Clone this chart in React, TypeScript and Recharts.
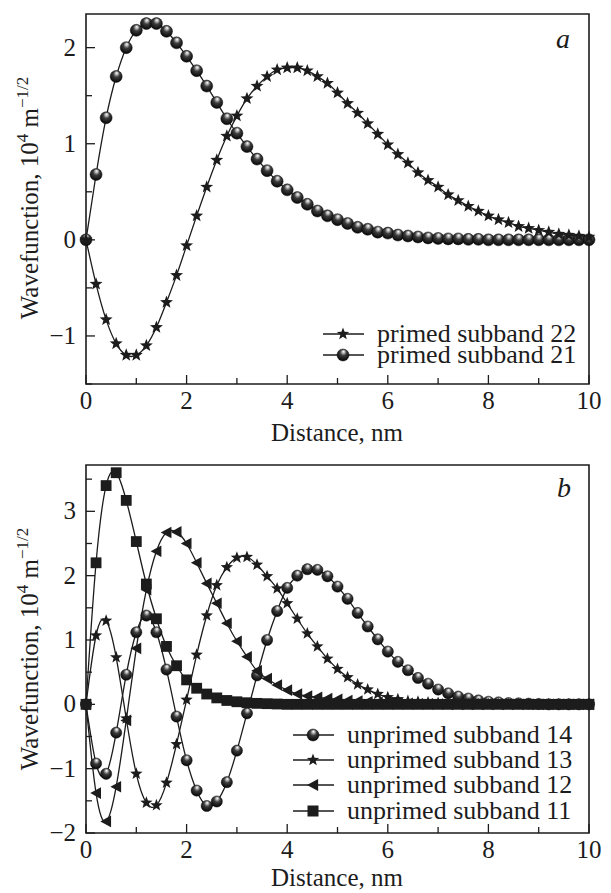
import React from "react"
import { LineChart, Line, XAxis, YAxis, ReferenceArea } from "recharts"

// distance grid, nm
const distance = [
  0, 0.2, 0.4, 0.6, 0.8, 1, 1.2, 1.4, 1.6, 1.8, 2, 2.2, 2.4, 2.6, 2.8, 3, 3.2, 3.4, 3.6, 3.8,
  4, 4.2, 4.4, 4.6, 4.8, 5, 5.2, 5.4, 5.6, 5.8, 6, 6.2, 6.4, 6.6, 6.8, 7, 7.2, 7.4, 7.6, 7.8,
  8, 8.2, 8.4, 8.6, 8.8, 9, 9.2, 9.4, 9.6, 9.8, 10,
]

// panel a
const primed22 = [
  0, -0.46, -0.83, -1.08, -1.2, -1.2, -1.1, -0.91, -0.65, -0.37, -0.06, 0.25, 0.55, 0.83, 1.08, 1.29, 1.47, 1.6, 1.7, 1.77,
  1.79, 1.79, 1.76, 1.7, 1.63, 1.53, 1.42, 1.32, 1.21, 1.1, 0.99, 0.89, 0.8, 0.7, 0.62, 0.55, 0.47, 0.41, 0.35, 0.3,
  0.25, 0.21, 0.18, 0.14, 0.12, 0.1, 0.08, 0.06, 0.05, 0.04, 0.03,
]
const primed21 = [
  0, 0.68, 1.27, 1.7, 2.0, 2.18, 2.25, 2.25, 2.17, 2.05, 1.91, 1.76, 1.6, 1.43, 1.26, 1.11, 0.97, 0.84, 0.72, 0.61,
  0.52, 0.44, 0.37, 0.3, 0.25, 0.21, 0.17, 0.13, 0.11, 0.08, 0.07, 0.05, 0.04, 0.03, 0.02, 0.015, 0.01, 0.01, 0.005, 0.005,
  0, 0, 0, 0, 0, 0, 0, 0, 0, 0, 0,
]

// panel b
const unprimed14 = [
  0, -0.92, -1.08, -0.44, 0.46, 1.12, 1.38, 1.12, 0.54, -0.19, -0.87, -1.34, -1.58, -1.51, -1.21, -0.72, -0.14, 0.45, 1.0, 1.45,
  1.81, 2.0, 2.1, 2.09, 1.99, 1.83, 1.64, 1.42, 1.21, 1.01, 0.82, 0.66, 0.53, 0.41, 0.32, 0.23, 0.17, 0.12, 0.09, 0.06,
  0.04, 0.03, 0.02, 0.015, 0.01, 0.005, 0, 0, 0, 0, 0,
]
const unprimed13 = [
  0, 1.07, 1.3, 0.73, -0.22, -1.08, -1.53, -1.57, -1.22, -0.62, 0.07, 0.77, 1.38, 1.85, 2.13, 2.28, 2.29, 2.17, 1.99, 1.8,
  1.57, 1.33, 1.1, 0.9, 0.71, 0.55, 0.42, 0.31, 0.23, 0.16, 0.11, 0.08, 0.05, 0.04, 0.03, 0.02, 0.01, 0.005, 0, 0,
  0, 0, 0, 0, 0, 0, 0, 0, 0, 0, 0,
]
const unprimed12 = [
  0, -1.38, -1.82, -1.28, -0.25, 0.87, 1.78, 2.38, 2.67, 2.68, 2.5, 2.2, 1.88, 1.57, 1.26, 0.98, 0.74, 0.52, 0.4, 0.3,
  0.22, 0.16, 0.13, 0.11, 0.09, 0.08, 0.06, 0.05, 0.04, 0.03, 0.025, 0.02, 0.015, 0.01, 0.01, 0.005, 0, 0, 0, 0,
  0, 0, 0, 0, 0, 0, 0, 0, 0, 0, 0,
]
const unprimed11 = [
  0, 2.2, 3.4, 3.6, 3.17, 2.53, 1.87, 1.33, 0.9, 0.6, 0.38, 0.25, 0.16, 0.1, 0.06, 0.04, 0.025, 0.015, 0.01, 0.005,
  0, 0, 0, 0, 0, 0, 0, 0, 0, 0, 0, 0, 0, 0, 0, 0, 0, 0, 0, 0,
  0, 0, 0, 0, 0, 0, 0, 0, 0, 0, 0,
]

const xTicks = [0, 1, 2, 3, 4, 5, 6, 7, 8, 9, 10]
const yTicksA = [-1.5, -1, -0.5, 0, 0.5, 1, 1.5, 2]
const yTicksB = [-2, -1.5, -1, -0.5, 0, 0.5, 1, 1.5, 2, 2.5, 3, 3.5]
const legendA = ["primed subband 22", "primed subband 21"]
const legendB = ["unprimed subband 14", "unprimed subband 13", "unprimed subband 12", "unprimed subband 11"]

const dataA = distance.map((x, i) => ({ x, s22: primed22[i], s21: primed21[i] }))
const dataB = distance.map((x, i) => ({
  x,
  s14: unprimed14[i],
  s13: unprimed13[i],
  s12: unprimed12[i],
  s11: unprimed11[i],
}))

const FONT = "'Liberation Serif', 'DejaVu Serif', serif"
const INK = "#1c1c1c"
const fmt = (v: number) => String(v).replace("-", "\u2212")

function Sphere({ cx, cy, r }: any) {
  return <circle cx={cx} cy={cy} r={r} fill="url(#ball)" stroke="#0a0a0a" strokeWidth={0.5} />
}

function Star({ cx, cy, R }: any) {
  const pts: string[] = []
  for (let k = 0; k < 10; k++) {
    const rad = k % 2 === 0 ? R : R * 0.42
    const a = -Math.PI / 2 + (k * Math.PI) / 5
    pts.push(`${cx + rad * Math.cos(a)},${cy + rad * Math.sin(a)}`)
  }
  return <polygon points={pts.join(" ")} fill={INK} />
}

function Tri({ cx, cy, s }: any) {
  return <polygon points={`${cx - s},${cy} ${cx + s * 0.85},${cy - s} ${cx + s * 0.85},${cy + s}`} fill={INK} />
}

function Square({ cx, cy, s }: any) {
  return <rect x={cx - s} y={cy - s} width={2 * s} height={2 * s} fill={INK} />
}

const sphereDot = (r: number) => (p: any) => <Sphere key={`o${p.index}`} cx={p.cx} cy={p.cy} r={r} />
const starDot = (R: number) => (p: any) => <Star key={`s${p.index}`} cx={p.cx} cy={p.cy} R={R} />
const triDot = (p: any) => <Tri key={`t${p.index}`} cx={p.cx} cy={p.cy} s={5.8} />
const squareDot = (p: any) => <Square key={`q${p.index}`} cx={p.cx} cy={p.cy} s={5.4} />

function XTick({ x, y, payload }: any) {
  const v = payload.value
  const major = v % 2 === 0
  return (
    <g>
      <line x1={x} x2={x} y1={y} y2={y - (major ? 9 : 6)} stroke={INK} strokeWidth={1.3} />
      {major && (
        <text x={x} y={y + 25} textAnchor="middle" fontSize={25} fontFamily={FONT} fill={INK}>
          {v}
        </text>
      )}
    </g>
  )
}

function YTick({ x, y, payload }: any) {
  const v = payload.value
  const major = Number.isInteger(v)
  return (
    <g>
      <line x1={x} x2={x + (major ? 9 : 6)} y1={y} y2={y} stroke={INK} strokeWidth={1.3} />
      {major && (
        <text x={x - 10} y={y + 8} textAnchor="end" fontSize={25} fontFamily={FONT} fill={INK}>
          {fmt(v)}
        </text>
      )}
    </g>
  )
}

function YTitle({ x, y }: any) {
  return (
    <text
      x={x}
      y={y}
      transform={`rotate(-90, ${x}, ${y})`}
      textAnchor="middle"
      fontSize={25}
      fontFamily={FONT}
      fill={INK}
    >
      Wavefunction, 10
      <tspan fontSize={17} dy={-10}>4</tspan>
      <tspan dy={10}> m</tspan>
      <tspan fontSize={17} dy={-10}>{"\u22121/2"}</tspan>
    </text>
  )
}

function LegendRow({ x, y, label, kind }: any) {
  const mx = x + 20
  return (
    <g>
      <line x1={x} x2={x + 41} y1={y} y2={y} stroke={INK} strokeWidth={1.4} />
      {kind === "sphere" && <Sphere cx={mx} cy={y} r={6} />}
      {kind === "star" && <Star cx={mx} cy={y} R={6.5} />}
      {kind === "tri" && <Tri cx={mx} cy={y} s={6} />}
      {kind === "square" && <Square cx={mx} cy={y} s={5.5} />}
      <text x={x + 54} y={y + 8} fontSize={26} fontFamily={FONT} fill={INK}>
        {label}
      </text>
    </g>
  )
}

export default function App() {
  const lineProps = { type: "natural" as const, stroke: INK, strokeWidth: 1.3, isAnimationActive: false, activeDot: false as const }
  return (
    <div style={{ position: "absolute", left: 0, top: 0, width: 611, height: 893, background: "#fff" }}>
      <div style={{ position: "absolute", left: 0, top: 0 }}>
        <LineChart width={611} height={440} data={dataA} margin={{ top: 14, right: 22, left: 0, bottom: 0 }}>
          <XAxis
            dataKey="x"
            type="number"
            domain={[0, 10]}
            ticks={xTicks}
            interval={0}
            axisLine={false}
            tickLine={false}
            tickSize={0}
            tickMargin={0}
            height={56}
            tick={<XTick />}
          />
          <YAxis
            type="number"
            domain={[-1.5, 2.35]}
            ticks={yTicksA}
            interval={0}
            allowDataOverflow
            axisLine={false}
            tickLine={false}
            tickSize={0}
            tickMargin={0}
            width={86}
            tick={<YTick />}
          />
          <ReferenceArea x1={0} x2={10} y1={-1.5} y2={2.35} fill="none" stroke={INK} strokeWidth={1.6} />
          <Line dataKey="s21" {...lineProps} dot={sphereDot(6)} />
          <Line dataKey="s22" {...lineProps} dot={starDot(6.8)} />
        </LineChart>
      </div>
      <div style={{ position: "absolute", left: 0, top: 440 }}>
        <LineChart width={611} height={453} data={dataB} margin={{ top: 25, right: 22, left: 0, bottom: 0 }}>
          <XAxis
            dataKey="x"
            type="number"
            domain={[0, 10]}
            ticks={xTicks}
            interval={0}
            axisLine={false}
            tickLine={false}
            tickSize={0}
            tickMargin={0}
            height={60}
            tick={<XTick />}
          />
          <YAxis
            type="number"
            domain={[-2, 3.72]}
            ticks={yTicksB}
            interval={0}
            allowDataOverflow
            axisLine={false}
            tickLine={false}
            tickSize={0}
            tickMargin={0}
            width={86}
            tick={<YTick />}
          />
          <ReferenceArea x1={0} x2={10} y1={-2} y2={3.72} fill="none" stroke={INK} strokeWidth={1.6} />
          <Line dataKey="s14" {...lineProps} dot={sphereDot(5.6)} />
          <Line dataKey="s13" {...lineProps} dot={starDot(6.5)} />
          <Line dataKey="s12" {...lineProps} dot={triDot} />
          <Line dataKey="s11" {...lineProps} dot={squareDot} />
        </LineChart>
      </div>
      <svg width={611} height={893} style={{ position: "absolute", left: 0, top: 0, pointerEvents: "none" }}>
        <defs>
          <radialGradient id="ball" cx="0.5" cy="0.4" r="0.6" fx="0.55" fy="0.2">
            <stop offset="0%" stopColor="#ffffff" />
            <stop offset="15%" stopColor="#c8c8c8" />
            <stop offset="45%" stopColor="#3c3c3c" />
            <stop offset="100%" stopColor="#050505" />
          </radialGradient>
        </defs>
        <YTitle x={38} y={198} />
        <text x={337} y={441} textAnchor="middle" fontSize={25} fontFamily={FONT} fill={INK}>
          Distance, nm
        </text>
        <text x={563} y={48} textAnchor="middle" fontSize={28} fontStyle="italic" fontFamily={FONT} fill={INK}>
          a
        </text>
        <LegendRow x={323} y={334} label={legendA[0]} kind="star" />
        <LegendRow x={323} y={355} label={legendA[1]} kind="sphere" />

        <YTitle x={38} y={649} />
        <text x={337} y={886} textAnchor="middle" fontSize={25} fontFamily={FONT} fill={INK}>
          Distance, nm
        </text>
        <text x={564} y={497} textAnchor="middle" fontSize={28} fontStyle="italic" fontFamily={FONT} fill={INK}>
          b
        </text>
        <LegendRow x={293} y={735} label={legendB[0]} kind="sphere" />
        <LegendRow x={293} y={760} label={legendB[1]} kind="star" />
        <LegendRow x={293} y={785} label={legendB[2]} kind="tri" />
        <LegendRow x={293} y={811} label={legendB[3]} kind="square" />
      </svg>
    </div>
  )
}
